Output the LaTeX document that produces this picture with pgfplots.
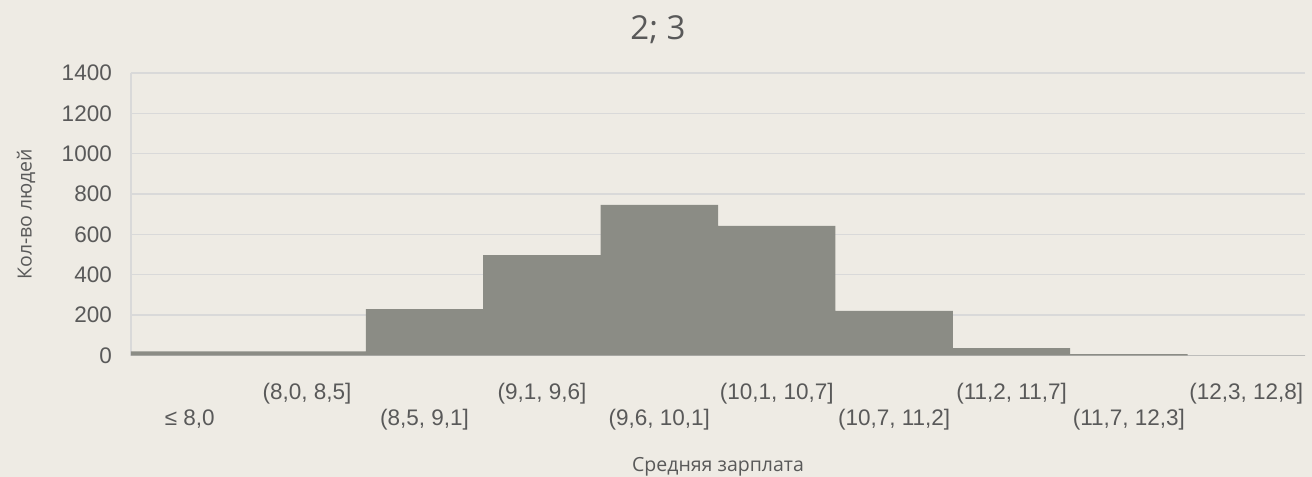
\documentclass[border=0pt]{standalone}
\usepackage{fontspec}
\setmainfont{Liberation Sans}
\newfontfamily\osans{Open Sans}
\usepackage{pgfplots}
\pgfplotsset{compat=1.18}
\definecolor{bgc}{HTML}{EEEBE4}
\definecolor{barc}{HTML}{8B8C85}
\definecolor{gridc}{HTML}{D9D9D9}
\definecolor{txt}{HTML}{595959}
\newcommand\lo[1]{\raisebox{-26bp}{#1}}
\begin{document}
\begin{tikzpicture}
\fill[bgc] (-131bp,-121.5bp) rectangle (1181bp,355.5bp);
\begin{axis}[
  at={(0,0)}, anchor=south west,
  scale only axis, width=1174bp, height=282.5bp,
  xmin=-0.5, xmax=9.5, ymin=0, ymax=1400,
  ytick={0,200,...,1400},
  xtick={0,...,9},
  xticklabels={{\lo{≤ 8,0}},{(8,0, 8,5]},{\lo{(8,5, 9,1]}},{(9,1, 9,6]},{\lo{(9,6, 10,1]}},{(10,1, 10,7]},{\lo{(10,7, 11,2]}},{(11,2, 11,7]},{\lo{(11,7, 12,3]}},{(12,3, 12,8]}},
  /pgf/number format/1000 sep={},
  /pgf/number format/assume math mode=true,
  major tick length=0pt,
  axis x line=bottom, axis y line=left,
  axis line style={-, draw=gridc, line width=1.3bp},
  ymajorgrids, grid style={draw=gridc, line width=1.3bp},
  ticklabel style={font=\fontsize{22.5bp}{26bp}\selectfont, text=txt},
  yticklabel style={anchor=east, inner sep=0pt, xshift=-19bp},
  xticklabel style={anchor=base, inner sep=0pt, yshift=-43.5bp},
  xlabel={Средняя зарплата},
  ylabel={Кол-во людей},
  title={2; 3},
  every axis x label/.style={at={(rel axis cs:0.5,0)}, anchor=base, yshift=-115.5bp, font=\osans\fontsize{19.5bp}{22bp}\selectfont, text=txt, inner sep=0pt},
  every axis y label/.style={at={(rel axis cs:0,0.5)}, anchor=center, rotate=90, yshift=105bp, font=\osans\fontsize{19.5bp}{22bp}\selectfont, text=txt, inner sep=0pt},
  every axis title/.style={at={(rel axis cs:0,1)}, anchor=base, xshift=527bp, yshift=33bp, font=\osans\fontsize{33bp}{36bp}\selectfont, text=txt, inner sep=0pt},
]
\addplot[ybar, bar width=1, bar shift=0pt, fill=barc, draw=none] coordinates {
  (0,20) (1,20) (2,230) (3,498) (4,746) (5,642) (6,221) (7,36) (8,7) (9,1)
};
\end{axis}
\pgfresetboundingbox
\useasboundingbox (-131bp,-121.5bp) rectangle (1181bp,355.5bp);
\end{tikzpicture}
\end{document}
